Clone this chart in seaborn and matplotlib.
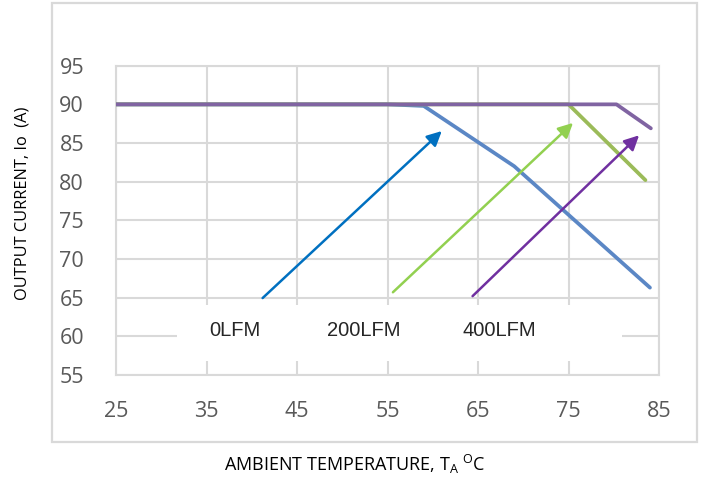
import pandas as pd
import matplotlib.pyplot as plt
import seaborn as sns
from matplotlib.patches import Rectangle

# Derating curves
temp_0lfm = [25, 55, 59, 69, 84]
io_0lfm = [90, 90, 89.8, 82, 66.3]
temp_200lfm = [25, 75, 83.5]
io_200lfm = [90, 90, 80.2]
temp_400lfm = [25, 80.3, 84.1]
io_400lfm = [90, 90, 86.9]

series_names = ['0LFM', '200LFM', '400LFM']
line_colors = ['#5B87C5', '#9BBB59', '#8064A2']
arrow_colors = ['#0070C0', '#92D050', '#7030A0']

# arrows: (start temp, start Io) -> (tip temp, tip Io)
arrow_start = [(41.2, 64.95), (55.6, 65.7), (64.4, 65.2)]
arrow_tip = [(61.0, 86.55), (75.5, 87.6), (82.8, 86.0)]

x_ticks = [25, 35, 45, 55, 65, 75, 85]
y_ticks = [55, 60, 65, 70, 75, 80, 85, 90, 95]

# long-form table for seaborn
data = pd.concat([
    pd.DataFrame({'Temp': temp_0lfm, 'Io': io_0lfm, 'Airflow': '0LFM'}),
    pd.DataFrame({'Temp': temp_200lfm, 'Io': io_200lfm, 'Airflow': '200LFM'}),
    pd.DataFrame({'Temp': temp_400lfm, 'Io': io_400lfm, 'Airflow': '400LFM'}),
])

sns.set_theme(style='white')
plt.rcParams['font.family'] = ['Open Sans', 'DejaVu Sans']

grid_c = '#D9D9D9'
fig = plt.figure(figsize=(7.01, 4.78), dpi=100)
ax = fig.add_axes([116 / 701, 1 - 375 / 478, (659 - 116) / 701, (375 - 65.7) / 478])

# outer chart border
fig.patches.append(Rectangle((52 / 701, 1 - 442 / 478), (697 - 52) / 701, (442 - 3) / 478,
                             transform=fig.transFigure, fill=False, edgecolor=grid_c, lw=1.6))

sns.lineplot(data=data, x='Temp', y='Io', hue='Airflow', hue_order=series_names,
             palette=line_colors, estimator=None, sort=False, lw=2.7, legend=False,
             ax=ax, zorder=3)

for (x0, y0), (x1, y1), c in zip(arrow_start, arrow_tip, arrow_colors):
    ax.annotate('', xy=(x1, y1), xytext=(x0, y0), zorder=4,
                arrowprops=dict(arrowstyle='-|>', color=c, lw=1.8, mutation_scale=22,
                                shrinkA=0, shrinkB=0))

# white label band with the airflow names
ax.add_patch(Rectangle((31.7, 56.8), 80.9 - 31.7, 64.0 - 56.8, facecolor='white',
                       edgecolor='none', zorder=1))
for name, xpos in zip(series_names, [38.1, 52.4, 67.4]):
    ax.text(xpos, 60.8, name, ha='center', va='center', fontsize=14.5,
            family='Liberation Sans', color='#262626', zorder=5)

ax.set_xlim(25, 85)
ax.set_ylim(55, 95)
ax.set_xticks(x_ticks)
ax.set_yticks(y_ticks)
ax.set_axisbelow(True)
ax.grid(True, color=grid_c, lw=1.5)
for s in ax.spines.values():
    s.set_color(grid_c)
    s.set_linewidth(1.5)
ax.tick_params(axis='both', length=0, labelsize=15.5, labelcolor='#595959')
ax.tick_params(axis='x', pad=19)
ax.tick_params(axis='y', pad=23)
ax.set_xlabel('')
ax.set_ylabel('')

fig.text(23 / 701, 1 - 203 / 478, 'OUTPUT CURRENT, Io  (A)', rotation=90, ha='center',
         va='center', fontsize=11.8, color='black')
fig.text(355 / 701, 1 - 464 / 478, r'AMBIENT TEMPERATURE, T$_\mathregular{A}$ $^\mathregular{O}$C',
         ha='center', va='center', fontsize=13, color='black')

fig.savefig('out.png', dpi=100)
